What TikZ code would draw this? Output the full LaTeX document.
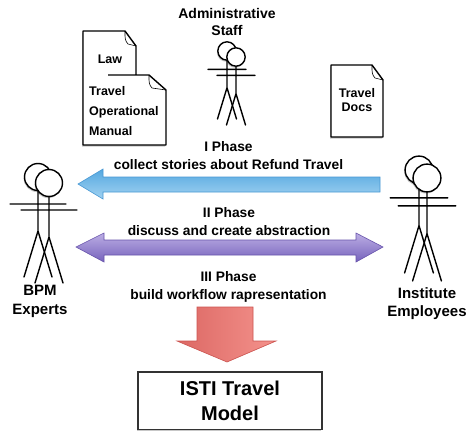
\documentclass[tikz,border=0pt]{standalone}
\usepackage{fontspec}
\setmainfont{Liberation Sans}
\usetikzlibrary{shadows}

\newcommand\labelfont[2]{\fontsize{#1}{#2}\selectfont\bfseries}

\definecolor{blueTop}{RGB}{84,168,224}
\definecolor{blueBot}{RGB}{162,210,241}
\definecolor{blueEdge}{RGB}{72,152,212}
\definecolor{purpTop}{RGB}{188,174,228}
\definecolor{purpBot}{RGB}{118,98,188}
\definecolor{purpEdge}{RGB}{104,84,172}
\definecolor{redLeft}{RGB}{220,104,100}
\definecolor{redRight}{RGB}{244,146,140}
\definecolor{redEdge}{RGB}{204,84,80}

\tikzset{
  limb/.style={line width=1.4pt, line cap=round},
  softshadow/.style={drop shadow={shadow xshift=-0.8pt, shadow yshift=-1.6pt, opacity=0.22, fill=black}},
  stickman/.pic={
    \draw[limb] (0,13) -- (0,54) (-28,27) -- (28,27) (-14,100) -- (0,54) -- (14,100);
    \draw[limb, fill=white, softshadow] (0,0) circle (13.5);
  },
  docline/.style={line width=1.4pt, line join=round},
  foldline/.style={line width=0.6pt},
  txt/.style={inner sep=0pt, align=center},
}

\begin{document}
\begin{tikzpicture}[x=1pt, y=-1pt]
  \useasboundingbox[fill=white] (0,0) rectangle (467,431);

  % stacked documents: Law over Travel Operational Manual
  \path[docline, draw=black, fill=white, softshadow]
    (136,75) -- (136,46) -- (125,31) -- (83,31) -- (83,145) -- (166,145)
    -- (166,90) -- (149,75) -- (108,75);
  \draw[foldline] (125,31) .. controls (125,40) .. (128,44) -- (136,46);
  \draw[foldline] (149,75) .. controls (149,84) .. (152,88) -- (166,90);
  \node[txt, font=\labelfont{12.5}{15}] (law) at (110,59) {Law};
  \node[txt, font=\labelfont{12.5}{20}, align=left, anchor=west] (manual) at (89,111)
    {Travel\\Operational\\Manual};

  % single document
  \path[docline, draw=black, fill=white, softshadow]
    (331,65) -- (372,65) -- (383,80) -- (383,137) -- (331,137) -- cycle;
  \draw[foldline] (372,65) .. controls (372,74) .. (375,78) -- (383,80);
  \node[txt, font=\labelfont{12.5}{14.5}] (docs) at (357,100) {Travel\\Docs};

  % actors
  \pic[scale=0.68] at (227,51) {stickman};
  \pic[scale=0.68] at (236,57) {stickman};
  \node[txt, font=\labelfont{14}{17}] (admin) at (227,21.5) {Administrative\\Staff};

  \pic at (38,177) {stickman};
  \pic at (49,183) {stickman};
  \node[txt, font=\labelfont{15}{19}] (bpm) at (40,301.5) {BPM\\Experts};

  \pic[scale=1.03] at (419,170) {stickman};
  \pic[scale=1.03] at (427,178) {stickman};
  \node[txt, font=\labelfont{15}{17.5}] (inst) at (427,303.5) {Institute\\Employees};

  % phase I: stories flow from employees to experts
  \path[draw=blueEdge, line width=0.6pt, top color=blueTop, bottom color=blueBot]
    (78,184) -- (103,169) -- (103,177) -- (380,177) -- (380,192) -- (103,192)
    -- (103,199) -- cycle;
  \node[txt, font=\labelfont{13.8}{18}] (phase1) at (228.5,156)
    {I Phase\\collect stories about Refund Travel};

  % phase II: two-way discussion
  \path[draw=purpEdge, line width=0.6pt, top color=purpTop, bottom color=purpBot]
    (76,247) -- (104,233) -- (104,240) -- (356,240) -- (356,233) -- (383,247)
    -- (356,262) -- (356,255) -- (104,255) -- (104,262) -- cycle;
  \node[txt, font=\labelfont{13.8}{18}] (phase2) at (229,222)
    {II Phase\\discuss and create abstraction};

  % phase III: build the model
  \node[txt, font=\labelfont{13.8}{18}] (phase3) at (228.5,287)
    {III Phase\\build workflow rapresentation};
  \path[draw=redEdge, line width=0.6pt, left color=redLeft, right color=redRight]
    (197,307) -- (253,307) -- (253,341) -- (276,341) -- (227,362) -- (177,341)
    -- (197,341) -- cycle;

  \path[draw=black!80, line width=1.1pt, fill=white, softshadow]
    (138,372) rectangle (322,429.5);
  \node[txt, font=\labelfont{20}{25}] (model) at (230,401) {ISTI Travel\\Model};
\end{tikzpicture}
\end{document}
